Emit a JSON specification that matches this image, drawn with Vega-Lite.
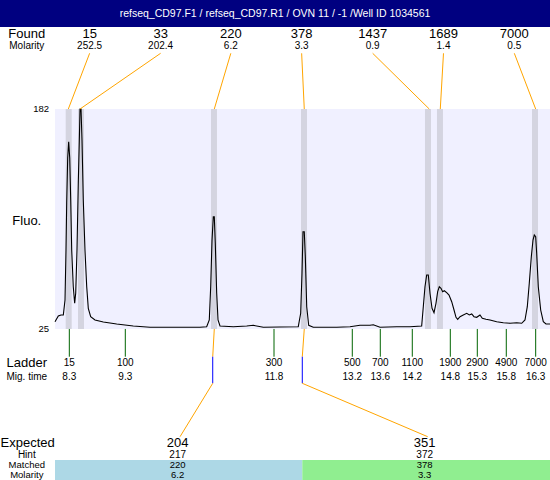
{
  "$schema": "https://vega.github.io/schema/vega-lite/v6.json",
  "width": 550,
  "height": 480,
  "autosize": "none",
  "padding": 0,
  "background": "white",
  "view": {"stroke": null},
  "config": {
    "text": {"font": "Liberation Sans, Arial, sans-serif", "baseline": "middle", "color": "black"}
  },
  "datasets": {
    "trace": [
      {"t": 8.045, "f": 30.19}, {"t": 8.102, "f": 34.25}, {"t": 8.148, "f": 34.97}, {"t": 8.188, "f": 34.97},
      {"t": 8.217, "f": 45.67}, {"t": 8.234, "f": 81.36}, {"t": 8.246, "f": 114.91}, {"t": 8.263, "f": 147.03},
      {"t": 8.28, "f": 158.66}, {"t": 8.298, "f": 147.03}, {"t": 8.315, "f": 117.05}, {"t": 8.332, "f": 81.36},
      {"t": 8.359, "f": 55.17}, {"t": 8.383, "f": 43.32}, {"t": 8.401, "f": 50.67}, {"t": 8.423, "f": 81.36},
      {"t": 8.445, "f": 129.18}, {"t": 8.463, "f": 159.87}, {"t": 8.475, "f": 182}, {"t": 8.492, "f": 182},
      {"t": 8.509, "f": 159.87}, {"t": 8.531, "f": 117.05}, {"t": 8.56, "f": 81.36}, {"t": 8.59, "f": 55.17},
      {"t": 8.617, "f": 39.75}, {"t": 8.658, "f": 33.75}, {"t": 8.732, "f": 31.4}, {"t": 8.875, "f": 29.97},
      {"t": 9.105, "f": 28.54}, {"t": 9.39, "f": 27.12}, {"t": 9.677, "f": 26.19}, {"t": 10.536, "f": 26.19},
      {"t": 10.651, "f": 26.62}, {"t": 10.696, "f": 31.4}, {"t": 10.72, "f": 55.17}, {"t": 10.743, "f": 88.5},
      {"t": 10.765, "f": 105.13}, {"t": 10.782, "f": 105.13}, {"t": 10.799, "f": 86.36}, {"t": 10.823, "f": 50.67},
      {"t": 10.846, "f": 31.4}, {"t": 10.88, "f": 27.12}, {"t": 11.109, "f": 26.62}, {"t": 11.339, "f": 27.12},
      {"t": 11.452, "f": 27.62}, {"t": 11.624, "f": 26.19}, {"t": 11.911, "f": 26.4}, {"t": 12.225, "f": 26.62},
      {"t": 12.266, "f": 36.18}, {"t": 12.289, "f": 64.73}, {"t": 12.306, "f": 94.42}, {"t": 12.328, "f": 94.42},
      {"t": 12.346, "f": 76.58}, {"t": 12.37, "f": 40.89}, {"t": 12.404, "f": 27.62}, {"t": 12.483, "f": 26.19},
      {"t": 12.885, "f": 26.19}, {"t": 13.114, "f": 26.62}, {"t": 13.285, "f": 27.62}, {"t": 13.457, "f": 27.62},
      {"t": 13.514, "f": 28.05}, {"t": 13.629, "f": 26.19}, {"t": 13.916, "f": 26.62}, {"t": 14.144, "f": 26.62},
      {"t": 14.345, "f": 27.12}, {"t": 14.373, "f": 40.89}, {"t": 14.402, "f": 55.17}, {"t": 14.431, "f": 63.52},
      {"t": 14.459, "f": 63.52}, {"t": 14.488, "f": 50.46}, {"t": 14.523, "f": 39.75}, {"t": 14.557, "f": 36.61},
      {"t": 14.591, "f": 43.32}, {"t": 14.62, "f": 51.6}, {"t": 14.648, "f": 55.17}, {"t": 14.677, "f": 54.03},
      {"t": 14.706, "f": 51.6}, {"t": 14.734, "f": 52.31}, {"t": 14.775, "f": 50.89}, {"t": 14.815, "f": 49.24},
      {"t": 14.861, "f": 44.46}, {"t": 14.901, "f": 38.54}, {"t": 14.935, "f": 33.33}, {"t": 14.964, "f": 31.9},
      {"t": 15.004, "f": 33.75}, {"t": 15.06, "f": 34.97}, {"t": 15.119, "f": 36.18}, {"t": 15.164, "f": 34.97},
      {"t": 15.205, "f": 35.68}, {"t": 15.244, "f": 33.75}, {"t": 15.291, "f": 33.33}, {"t": 15.347, "f": 34.97},
      {"t": 15.387, "f": 32.61}, {"t": 15.45, "f": 31.9}, {"t": 15.519, "f": 31.4}, {"t": 15.634, "f": 30.19},
      {"t": 15.748, "f": 29.47}, {"t": 15.863, "f": 29.05}, {"t": 15.978, "f": 29.47}, {"t": 16.064, "f": 29.05},
      {"t": 16.12, "f": 31.4}, {"t": 16.16, "f": 40.89}, {"t": 16.194, "f": 57.59}, {"t": 16.229, "f": 76.58},
      {"t": 16.258, "f": 88.5}, {"t": 16.28, "f": 92.07}, {"t": 16.304, "f": 90.85}, {"t": 16.321, "f": 79.01},
      {"t": 16.349, "f": 55.17}, {"t": 16.39, "f": 38.54}, {"t": 16.435, "f": 30.19}, {"t": 16.481, "f": 28.54},
      {"t": 16.55, "f": 28.54}
    ],
    "peaks": [
      {"size": 15, "molarity": 252.5, "lo": 8.229, "hi": 8.332, "peak": 8.274, "label": 8.64},
      {"size": 33, "molarity": 202.4, "lo": 8.44, "hi": 8.543, "peak": 8.475, "label": 9.86},
      {"size": 220, "molarity": 6.2, "lo": 10.725, "hi": 10.828, "peak": 10.782, "label": 11.066},
      {"size": 378, "molarity": 3.3, "lo": 12.272, "hi": 12.375, "peak": 12.328, "label": 12.283},
      {"size": 1437, "molarity": 0.9, "lo": 14.402, "hi": 14.505, "peak": 14.476, "label": 13.503},
      {"size": 1689, "molarity": 1.4, "lo": 14.608, "hi": 14.711, "peak": 14.665, "label": 14.72},
      {"size": 7000, "molarity": 0.5, "lo": 16.241, "hi": 16.344, "peak": 16.304, "label": 15.937}
    ],
    "ladder": [
      {"size": 15, "time": 8.291}, {"size": 100, "time": 9.253}, {"size": 300, "time": 11.808},
      {"size": 500, "time": 13.153}, {"size": 700, "time": 13.634}, {"size": 1100, "time": 14.184},
      {"size": 1900, "time": 14.837}, {"size": 2900, "time": 15.301}, {"size": 4900, "time": 15.799},
      {"size": 7000, "time": 16.304}
    ],
    "expected": [
      {"expected": "204", "hint": 217, "matched": 220, "molarity": 6.2, "peak": 10.782, "turn": 10.755, "label": 10.153, "end": 10.193, "from": 8.045, "to": 12.294},
      {"expected": "351", "hint": 372, "matched": 378, "molarity": 3.3, "peak": 12.328, "turn": 12.294, "label": 14.397, "end": 14.449, "from": 12.294, "to": 16.55}
    ],
    "plotarea": [{"from": 8.045, "to": 16.55, "low": 25, "high": 182}],
    "header": [{"title": "refseq_CD97.F1 / refseq_CD97.R1 / OVN 11 / -1 /Well ID 1034561", "from": 7.1, "to": 16.55}],
    "rowlabels": [
      {"label": "Found"}, {"label": "Molarity"}, {"label": "Fluo."}, {"label": "Ladder"}, {"label": "Mig. time"},
      {"label": "Expected"}, {"label": "Hint"}, {"label": "Matched"}, {"label": "Molarity "}
    ],
    "yticks": [{"v": 182}, {"v": 25}]
  },
  "layer": [
    {
      "data": {"name": "header"},
      "mark": {"type": "rect", "color": "#000080"},
      "encoding": {
        "x": {"field": "from", "type": "quantitative", "scale": {"domain": [7.1, 16.55], "nice": false, "zero": false}, "axis": null},
        "x2": {"field": "to"},
        "y": {"datum": 259.8, "type": "quantitative", "scale": {"domain": [-82.8, 259.8], "nice": false, "zero": false}, "axis": null},
        "y2": {"datum": 240.53}
      }
    },
    {
      "data": {"name": "header"},
      "mark": {"type": "text", "color": "white", "fontSize": 10.5},
      "encoding": {"x": {"datum": 11.825, "type": "quantitative"}, "y": {"datum": 249.81, "type": "quantitative"}, "text": {"field": "title", "type": "nominal"}}
    },
    {
      "data": {"name": "plotarea"},
      "mark": {"type": "rect", "color": "#F0F0FF"},
      "encoding": {"x": {"field": "from", "type": "quantitative"}, "x2": {"field": "to"}, "y": {"field": "low", "type": "quantitative"}, "y2": {"field": "high"}}
    },
    {
      "data": {"name": "peaks"},
      "mark": {"type": "rect", "color": "#D4D4E0"},
      "encoding": {"x": {"field": "lo", "type": "quantitative"}, "x2": {"field": "hi"}, "y": {"datum": 25, "type": "quantitative"}, "y2": {"datum": 182}}
    },
    {
      "data": {"name": "trace"},
      "mark": {"type": "line", "color": "black", "strokeWidth": 1.1},
      "encoding": {
        "x": {"field": "t", "type": "quantitative"},
        "y": {"field": "f", "type": "quantitative"}
      }
    },
    {
      "data": {"name": "peaks"},
      "mark": {"type": "rule", "color": "#FFA500", "strokeWidth": 1},
      "encoding": {"x": {"field": "label", "type": "quantitative"}, "x2": {"field": "peak"}, "y": {"datum": 221.76, "type": "quantitative"}, "y2": {"datum": 182}}
    },
    {
      "data": {"name": "peaks"},
      "mark": {"type": "text", "fontSize": 13},
      "encoding": {"x": {"field": "label", "type": "quantitative"}, "y": {"datum": 235.32, "type": "quantitative"}, "text": {"field": "size", "type": "nominal"}}
    },
    {
      "data": {"name": "peaks"},
      "mark": {"type": "text", "fontSize": 10},
      "encoding": {"x": {"field": "label", "type": "quantitative"}, "y": {"datum": 226.97, "type": "quantitative"}, "text": {"field": "molarity", "type": "quantitative", "format": ".1f"}}
    },
    {
      "data": {"name": "ladder"},
      "mark": {"type": "rule", "color": "#006400", "strokeWidth": 1},
      "encoding": {"x": {"field": "time", "type": "quantitative"}, "y": {"datum": 25, "type": "quantitative"}, "y2": {"datum": 5.2}}
    },
    {
      "data": {"name": "ladder"},
      "mark": {"type": "text", "fontSize": 10},
      "encoding": {"x": {"field": "time", "type": "quantitative"}, "y": {"datum": 0.49, "type": "quantitative"}, "text": {"field": "size", "type": "nominal"}}
    },
    {
      "data": {"name": "ladder"},
      "mark": {"type": "text", "fontSize": 10},
      "encoding": {"x": {"field": "time", "type": "quantitative"}, "y": {"datum": -9.07, "type": "quantitative"}, "text": {"field": "time", "type": "quantitative", "format": ".1f"}}
    },
    {
      "data": {"name": "expected"},
      "mark": {"type": "rect"},
      "encoding": {
        "x": {"field": "from", "type": "quantitative"}, "x2": {"field": "to"},
        "y": {"datum": -68.53, "type": "quantitative"}, "y2": {"datum": -82.8},
        "color": {"field": "expected", "type": "nominal", "scale": {"domain": ["204", "351"], "range": ["#ADD8E6", "#90EE90"]}, "legend": null}
      }
    },
    {
      "data": {"name": "expected"},
      "mark": {"type": "rule", "color": "#FFA500", "strokeWidth": 1},
      "encoding": {"x": {"field": "peak", "type": "quantitative"}, "x2": {"field": "turn"}, "y": {"datum": 25, "type": "quantitative"}, "y2": {"datum": 5.2}}
    },
    {
      "data": {"name": "expected"},
      "mark": {"type": "rule", "color": "#0000FF", "strokeWidth": 1},
      "encoding": {"x": {"field": "turn", "type": "quantitative"}, "y": {"datum": 5.2, "type": "quantitative"}, "y2": {"datum": -13.78}}
    },
    {
      "data": {"name": "expected"},
      "mark": {"type": "rule", "color": "#FFA500", "strokeWidth": 1},
      "encoding": {"x": {"field": "turn", "type": "quantitative"}, "x2": {"field": "end"}, "y": {"datum": -13.78, "type": "quantitative"}, "y2": {"datum": -51.9}}
    },
    {
      "data": {"name": "expected"},
      "mark": {"type": "text", "fontSize": 13},
      "encoding": {"x": {"field": "label", "type": "quantitative"}, "y": {"datum": -56.6, "type": "quantitative"}, "text": {"field": "expected", "type": "nominal"}}
    },
    {
      "data": {"name": "expected"},
      "mark": {"type": "text", "fontSize": 10},
      "encoding": {"x": {"field": "label", "type": "quantitative"}, "y": {"datum": -65.2, "type": "quantitative"}, "text": {"field": "hint", "type": "nominal"}}
    },
    {
      "data": {"name": "expected"},
      "mark": {"type": "text", "fontSize": 9.5},
      "encoding": {"x": {"field": "label", "type": "quantitative"}, "y": {"datum": -71.8, "type": "quantitative"}, "text": {"field": "matched", "type": "nominal"}}
    },
    {
      "data": {"name": "expected"},
      "mark": {"type": "text", "fontSize": 9.5},
      "encoding": {"x": {"field": "label", "type": "quantitative"}, "y": {"datum": -78.95, "type": "quantitative"}, "text": {"field": "molarity", "type": "quantitative", "format": ".1f"}}
    },
    {
      "data": {"name": "rowlabels"},
      "transform": [{"filter": "datum.label === 'Found'"}],
      "mark": {"type": "text", "fontSize": 13},
      "encoding": {"x": {"datum": 7.56, "type": "quantitative"}, "y": {"datum": 235.32, "type": "quantitative"}, "text": {"field": "label", "type": "nominal"}}
    },
    {
      "data": {"name": "rowlabels"},
      "transform": [{"filter": "datum.label === 'Molarity'"}],
      "mark": {"type": "text", "fontSize": 10},
      "encoding": {"x": {"datum": 7.56, "type": "quantitative"}, "y": {"datum": 226.97, "type": "quantitative"}, "text": {"field": "label", "type": "nominal"}}
    },
    {
      "data": {"name": "rowlabels"},
      "transform": [{"filter": "datum.label === 'Fluo.'"}],
      "mark": {"type": "text", "fontSize": 13},
      "encoding": {"x": {"datum": 7.56, "type": "quantitative"}, "y": {"datum": 102.27, "type": "quantitative"}, "text": {"field": "label", "type": "nominal"}}
    },
    {
      "data": {"name": "rowlabels"},
      "transform": [{"filter": "datum.label === 'Ladder'"}],
      "mark": {"type": "text", "fontSize": 13},
      "encoding": {"x": {"datum": 7.56, "type": "quantitative"}, "y": {"datum": 0.49, "type": "quantitative"}, "text": {"field": "label", "type": "nominal"}}
    },
    {
      "data": {"name": "rowlabels"},
      "transform": [{"filter": "datum.label === 'Mig. time'"}],
      "mark": {"type": "text", "fontSize": 10},
      "encoding": {"x": {"datum": 7.56, "type": "quantitative"}, "y": {"datum": -9.07, "type": "quantitative"}, "text": {"field": "label", "type": "nominal"}}
    },
    {
      "data": {"name": "rowlabels"},
      "transform": [{"filter": "datum.label === 'Expected'"}],
      "mark": {"type": "text", "fontSize": 13},
      "encoding": {"x": {"datum": 7.575, "type": "quantitative"}, "y": {"datum": -56.6, "type": "quantitative"}, "text": {"field": "label", "type": "nominal"}}
    },
    {
      "data": {"name": "rowlabels"},
      "transform": [{"filter": "datum.label === 'Hint'"}],
      "mark": {"type": "text", "fontSize": 10},
      "encoding": {"x": {"datum": 7.56, "type": "quantitative"}, "y": {"datum": -65.2, "type": "quantitative"}, "text": {"field": "label", "type": "nominal"}}
    },
    {
      "data": {"name": "rowlabels"},
      "transform": [{"filter": "datum.label === 'Matched'"}],
      "mark": {"type": "text", "fontSize": 9.5},
      "encoding": {"x": {"datum": 7.56, "type": "quantitative"}, "y": {"datum": -71.8, "type": "quantitative"}, "text": {"field": "label", "type": "nominal"}}
    },
    {
      "data": {"name": "rowlabels"},
      "transform": [{"filter": "datum.label === 'Molarity '"}],
      "mark": {"type": "text", "fontSize": 9.5},
      "encoding": {"x": {"datum": 7.56, "type": "quantitative"}, "y": {"datum": -78.95, "type": "quantitative"}, "text": {"field": "label", "type": "nominal"}}
    },
    {
      "data": {"name": "yticks"},
      "mark": {"type": "text", "fontSize": 9.5, "align": "right"},
      "encoding": {"x": {"datum": 7.942, "type": "quantitative"}, "y": {"field": "v", "type": "quantitative"}, "text": {"field": "v", "type": "nominal"}}
    }
  ]
}
